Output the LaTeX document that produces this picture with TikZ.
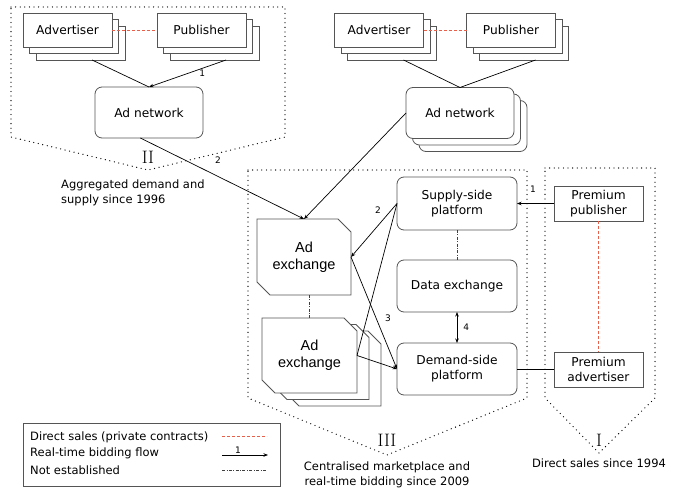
\documentclass[tikz,border=0pt]{standalone}
\usepackage{fontspec}
\usetikzlibrary{arrows.meta,calc}
\newfontfamily\vfont{DejaVu Sans}
\newfontfamily\afont{Liberation Sans}
\definecolor{redd}{HTML}{E8604A}
\definecolor{bord}{HTML}{555555}
\tikzset{
 shp/.style={draw=bord, fill=white, line width=0.8pt},
 box/.style={shp, inner sep=0pt, outer sep=0pt, font=\vfont\fontsize{12.2}{15}\selectfont, align=center},
 rbox/.style={box, rounded corners=7pt},
 ghost/.style={draw=none, inner sep=0pt, outer sep=0pt, minimum width=95pt, minimum height=75pt},
 adxtext/.style={font=\afont\fontsize{14.5}{17}\selectfont, align=center, inner sep=0pt},
 region/.style={line width=1.3pt, dash pattern=on 0pt off 4.6pt, line cap=round},
 flow/.style={line width=0.7pt, -{Stealth[length=4.5pt,width=3.5pt]}},
 bothflow/.style={line width=0.7pt, {Stealth[length=4.5pt,width=3.5pt]}-{Stealth[length=4.5pt,width=3.5pt]}},
 plainline/.style={line width=0.7pt},
 direct/.style={redd, line width=0.7pt, dash pattern=on 3pt off 2pt},
 notest/.style={line width=0.6pt, draw=black!75, dash pattern=on 3pt off 1.5pt on 0.8pt off 1.5pt},
 num/.style={font=\vfont\fontsize{9}{10}\selectfont, inner sep=1pt},
 captext/.style={font=\vfont\fontsize{11.5}{15}\selectfont, inner sep=0pt},
 roman/.style={font=\fontsize{18}{18}\selectfont, inner sep=0pt},
 wide/.style={minimum width=89pt, minimum height=34pt},
 anet/.style={minimum width=108pt, minimum height=51pt},
 plat/.style={minimum width=120pt, minimum height=52pt},
 prem/.style={minimum width=89pt, minimum height=35pt},
}
\newcommand\chambox[1]{\draw[shp] (#1.north west) -- ($(#1.north east)+(-13,0)$) -- ($(#1.north east)+(0,13)$) -- (#1.south east) -- ($(#1.south west)+(13,0)$) -- ($(#1.south west)+(0,-13)$) -- cycle;}
\begin{document}
\begin{tikzpicture}[x=1pt,y=-1pt]
\useasboundingbox (0,0) rectangle (697,489);
% regions
\draw[region] (11,7) -- (285,7) -- (285,137) -- (148,170) -- (11,137) -- cycle;
\draw[region] (248,170) -- (527,170) -- (527,398) -- (387,455) -- (248,398) -- cycle;
\draw[region] (545,168) -- (655,168) -- (655,398) -- (599,453) -- (545,398) -- cycle;
\node[roman] (numII) at (148,157) {II};
\node[roman] (numIII) at (387,440) {III};
\node[roman] (numI) at (599,440) {I};
% region II stacks
\node[box, wide] (advL3) at (80.5,43) {};
\node[box, wide] (advL2) at (74,36.5) {};
\node[box, wide] (advL) at (67.5,30) {Advertiser};
\node[box, wide] (pubL3) at (214.5,43) {};
\node[box, wide] (pubL2) at (208,36.5) {};
\node[box, wide] (pubL) at (201.5,30) {Publisher};
\node[rbox, anet] (anL) at (149,112.5) {Ad network};
\draw[direct] (advL.east) -- (pubL.west);
\draw[plainline] ($(advL3.south west)!0.63!(advL3.south east)$) -- (anL.north);
\draw[flow] ($(pubL3.south west)!0.63!(pubL3.south east)$) -- node[num, pos=0.35, below right=-1pt] (n1a) {1} (anL.north);
% right top stacks
\node[box, wide] (advR3) at (392,43) {};
\node[box, wide] (advR2) at (385.5,36.5) {};
\node[box, wide] (advR) at (379,30) {Advertiser};
\node[box, wide] (pubR3) at (524,43) {};
\node[box, wide] (pubR2) at (517.5,36.5) {};
\node[box, wide] (pubR) at (511,30) {Publisher};
\node[rbox, anet] (anR3) at (473,126) {};
\node[rbox, anet] (anR2) at (466.5,119.5) {};
\node[rbox, anet] (anR) at (460,113) {Ad network};
\draw[direct] (advR.east) -- (pubR.west);
\draw[plainline] ($(advR3.south west)!0.63!(advR3.south east)$) -- (anR.north);
\draw[plainline] ($(pubR3.south west)!0.63!(pubR3.south east)$) -- (anR.north);
% ad exchanges
\path node[ghost, minimum width=94pt, minimum height=76pt] (adx) at (304,257) {};
\chambox{adx}
\node[adxtext] (adxlabel) at (adx.center) {Ad\\exchange};
\path node[ghost] (adxs3) at (333.5,368.5) {};
\chambox{adxs3}
\path node[ghost] (adxs2) at (321.5,362) {};
\chambox{adxs2}
\path node[ghost] (adxs) at (309.5,355.5) {};
\chambox{adxs}
\node[adxtext] (adxslabel) at (adxs.center) {Ad\\exchange};
\draw[notest] (adxs.north |- adx.south) -- (adxs.north);
% platforms
\node[rbox, plat, minimum height=53pt] (ssp) at (457,203.5) {Supply-side\\platform};
\node[rbox, plat] (dx) at (457,286) {Data exchange};
\node[rbox, plat] (dsp) at (457,369) {Demand-side\\platform};
\draw[notest] (ssp.south) -- (dx.north);
\draw[bothflow] (dx.south) -- node[num, right=5pt] (n4) {4} (dsp.north);
% premium
\node[box, prem] (ppub) at (598.5,203.5) {Premium\\publisher};
\node[box, prem] (padv) at (598.5,369.5) {Premium\\advertiser};
\draw[direct] (ppub.south) -- (padv.north);
\draw[flow] (ppub.west) -- (ssp.east -| ssp.east);
\node[num] (n1b) at (533,189) {1};
\draw[plainline] (padv.west) -- (padv.west -| dsp.east);
% flows to exchanges
\draw[flow] ($(anL.south west)!0.42!(anL.south east)$) -- (adx.north);
\node[num] (n2a) at (218,160) {2};
\draw[flow] (anR.west) -- (adx.north);
\draw[flow] (ssp.west) -- (adx.east);
\node[num] (n2b) at (378,210) {2};
\draw[plainline] (ssp.west) -- (adxs.east);
\draw[flow] (adx.east) -- (dsp.west);
\node[num] (n3) at (388,318) {3};
\draw[flow] (adxs.east) -- (dsp.west);
% captions
\node[captext, anchor=west, align=left] (capII) at (61,192.5) {Aggregated demand and\\supply since 1996};
\node[captext, align=center] (capIII) at (387,474.5) {Centralised marketplace and\\real-time bidding since 2009};
\node[captext] (capI) at (599,463) {Direct sales since 1994};
% legend
\node[draw=bord, line width=0.8pt, minimum width=257pt, minimum height=63pt, inner sep=0pt] (legend) at (151.5,454.5) {};
\node[captext, anchor=west] (lg1) at (30,437) {Direct sales (private contracts)};
\node[captext, anchor=west] (lg2) at (30,453.5) {Real-time bidding flow};
\node[captext, anchor=west] (lg3) at (30,470) {Not established};
\coordinate (ls1a) at (222,436); \coordinate (ls1b) at (267,436);
\coordinate (ls2a) at (222,455); \coordinate (ls2b) at (268,455);
\coordinate (ls3a) at (222,470); \coordinate (ls3b) at (267,470);
\draw[direct] (ls1a) -- (ls1b);
\draw[flow] (ls2a) -- node[num, pos=0.35, above] (lgnum) {1} (ls2b);
\draw[notest] (ls3a) -- (ls3b);
\end{tikzpicture}
\end{document}
